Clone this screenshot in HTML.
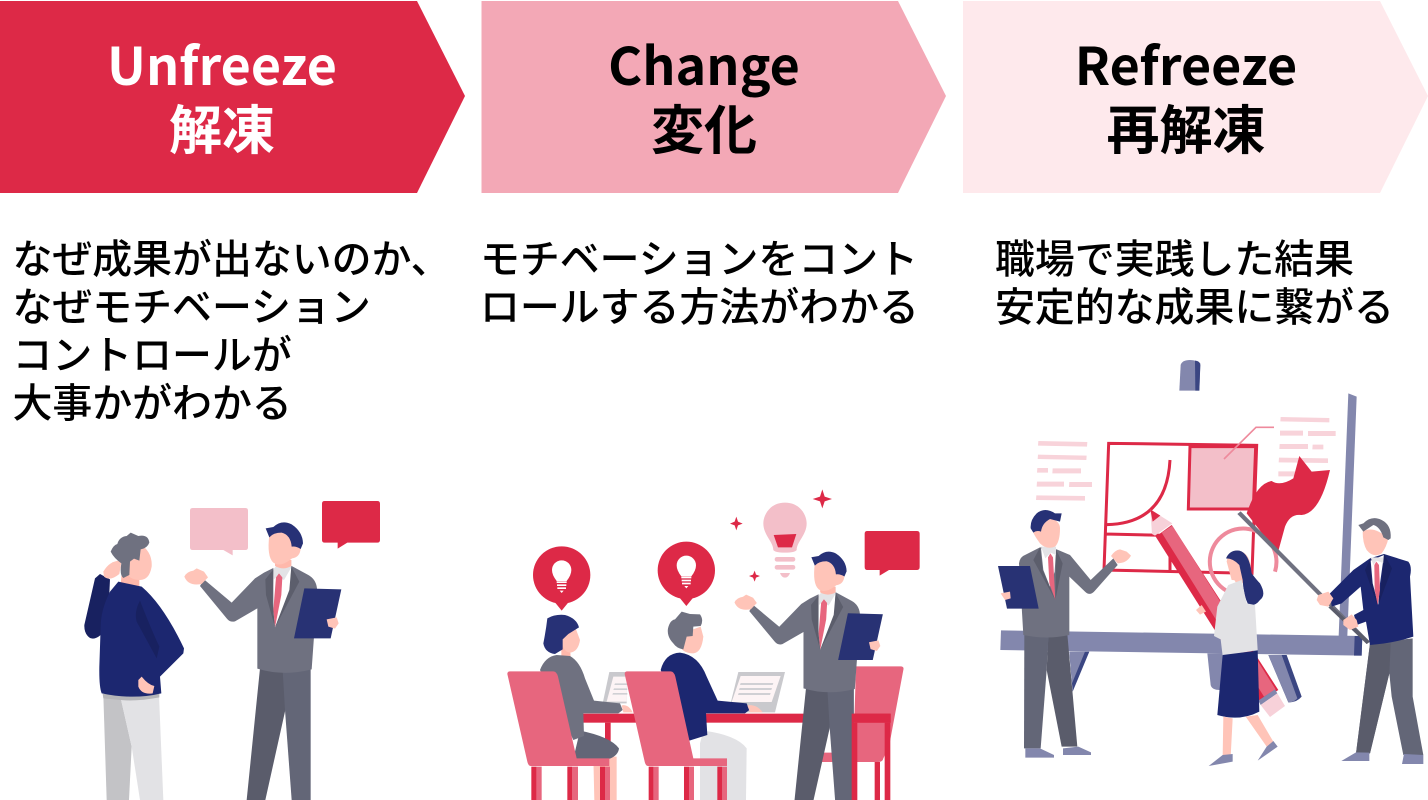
<!DOCTYPE html>
<html lang="ja"><head><meta charset="utf-8"><title>Unfreeze Change Refreeze</title>
<style>html,body{margin:0;padding:0;background:#fff;width:1428px;height:800px;overflow:hidden}svg{display:block}
text{font-family:"Noto Sans CJK JP","Liberation Sans",sans-serif}
.h{font-size:53px;font-weight:700;text-anchor:middle}.l{font-size:52px}.b{font-size:39.9px;font-weight:500;fill:#000}</style></head><body>
<svg xmlns="http://www.w3.org/2000/svg" width="1428" height="800" viewBox="0 0 1428 800">
<defs>
<g id="man">
<path d="M600 565L672 572 676 690 616 960H560Z" fill="#5a5c6b"/><path d="M668 572L752 565V960H695L675 690Z" fill="#636677"/>
<path d="M420 318L432 298 515 368 585 295 612 278 640 264 695 258 745 285Q768 298 771 325L762 470 755 568Q670 590 592 566L592 385 525 424Q510 428 500 415Z" fill="#6f7180"/>
<path d="M640 262H694L690 330 645 442 640 400Z" fill="#fff"/>
<path d="M640 268L660 246 694 240 694 262 672 300 650 290 640 300Z" fill="#e3e3e6"/>
<path d="M645 240H694V258Q670 272 645 258Z" fill="#ffb8ab"/>
<path d="M648 292L657 280 667 292 664 345 645 442 640 390Z" fill="#e7667e"/>
<path d="M640 268L616 298 618 345 645 442 638 370Z" fill="#5c5e6c"/><path d="M694 260L718 305 645 442 688 330Z" fill="#5c5e6c"/>
<path d="M628 165Q620 230 640 248 660 262 690 240L696 235Q720 232 722 205 700 170 660 155Z" fill="#ffc4b8"/>
<path d="M617 145L640 141Q665 118 695 133 728 155 729 190L722 207Q708 198 695 200 692 165 665 158 640 158 628 172Z" fill="#273176"/>
<path d="M373 290Q380 275 400 272L410 265 432 275 444 292 425 312Q385 320 373 290Z" fill="#ffc4b8"/>
<path d="M733 325L844 328 812 475H702Z" fill="#283274"/>
<path d="M800 418L830 412 836 430 825 446 805 440Z" fill="#ffc4b8"/>
</g>
<g id="bulb"><circle cx="215" cy="285" r="86" fill="#dd2947"/><path d="M193 365L237 365 215 392Z" fill="#dd2947"/>
<path d="M200 303Q186 285 186 270A29 29 0 0 1 244 270Q244 285 230 303Z" fill="#fff"/><rect x="200" y="304" width="30" height="5" fill="#fff"/><rect x="201" y="313" width="28" height="5" fill="#fff"/><rect x="202" y="322" width="26" height="5" fill="#fff"/><path d="M209 332H221L215 339Z" fill="#fff"/></g>
</defs>

<polygon points="0,1 417,1 465,96 417,193 0,193" fill="#dd2947"/>
<polygon points="481.5,1 898,1 946,96 898,193 481.5,193" fill="#f3a8b6"/>
<polygon points="963,1 1380,1 1428,96 1380,193 963,193" fill="#fee9ec"/>
<text class="h l" x="222" y="85" fill="#fff">Unfreeze</text><text class="h" x="222" y="149" fill="#fff">解凍</text>
<text class="h l" x="704" y="85">Change</text><text class="h" x="704" y="149">変化</text>
<text class="h l" x="1186" y="85">Refreeze</text><text class="h" x="1186" y="149">再解凍</text>

<text class="b" x="12.5" y="273">なぜ成果が出ないのか、</text>
<text class="b" x="12.5" y="321">なぜモチベーション</text>
<text class="b" x="12.5" y="369">コントロールが</text>
<text class="b" x="12.5" y="417">大事かがわかる</text>
<text class="b" x="480" y="273">モチベーションをコント</text>
<text class="b" x="480" y="321">ロールする方法がわかる</text>
<text class="b" x="995" y="273">職場で実践した結果</text>
<text class="b" x="995" y="321">安定的な成果に繋がる</text>

<!-- Scene 1 -->
<g transform="translate(60 480) scale(.33333)">
<path d="M398 84H556Q564 84 564 92V202Q564 210 556 210H518V226L490 210H398Q390 210 390 202V92Q390 84 398 84Z" fill="#f3bfc9"/>
<path d="M794 63H952Q960 63 960 71V180Q960 188 952 188H862L833 206V188H794Q786 188 786 180V71Q786 63 794 63Z" fill="#dd2947"/>
<path d="M130 645H180L215 800 207 960H140Z" fill="#c3c3c6"/><path d="M180 645H297L310 960H240L215 800Z" fill="#e2e2e5"/>
<path d="M128 642H298V652Q230 665 180 660L130 655Z" fill="#b5b5b8"/>
<path d="M185 280L238 280 238 325 182 312Z" fill="#ffb8ab"/>
<path d="M238 190Q278 215 275 260 268 300 240 300 205 300 195 270Z" fill="#ffc4b8"/>
<path d="M120 282L150 298 148 340 122 465Q105 480 90 474 72 462 73 435L105 295Z" fill="#182160"/>
<path d="M130 275Q150 240 185 242L178 282Q150 305 132 290Z" fill="#ffc4b8"/>
<path d="M175 305L245 320Q310 375 372 505L370 520 300 590 304 640Q220 660 125 640 117 620 118 560L122 440Q122 390 150 335Z" fill="#1c2770"/>
<path d="M240 362Q222 395 230 425L290 535 298 500Q270 440 240 362Z" fill="#182160"/>
<path d="M235 600L245 590Q265 615 283 618L278 640Q245 645 235 620Z" fill="#ffc4b8"/>
<path d="M152 215Q160 195 172 192 178 170 200 168L212 158 235 168Q265 162 268 188 262 205 242 208L238 242 222 236 210 245 208 285 190 294Q178 285 184 250 162 235 152 215Z" fill="#6f7180"/>
<use href="#man"/>
</g>

<!-- Scene 2 -->
<g transform="translate(490 480) scale(.33333)">
<path d="M885 68C930 68 950 105 950 130 950 165 920 185 920 210Q915 218 885 218 855 218 850 210C850 185 820 165 820 130 820 105 840 68 885 68Z" fill="#f3bfc9"/>
<path d="M851 165L919 162 906 202H864Z" fill="#dd2947"/>
<rect x="854" y="231" width="62" height="14" rx="7" fill="#f3bfc9"/><rect x="854" y="255" width="62" height="14" rx="7" fill="#f3bfc9"/><path d="M870 279H900Q895 293 885 293 875 293 870 279Z" fill="#f3bfc9"/>
<path d="M997 28L1004 50 1026 57 1004 64 997 85 990 64 968 57 990 50Z" fill="#dd2947"/>
<path d="M739 110L744 125 758 131 744 136 739 151 734 136 720 131 734 125Z" fill="#dd2947"/>
<path d="M794 272L798 284 810 288 798 293 794 305 789 293 777 288 789 284Z" fill="#dd2947"/>
<path d="M1132 153H1280Q1289 153 1289 161V261Q1289 270 1280 270H1197L1169 287V270H1132Q1124 270 1124 261V161Q1124 153 1132 153Z" fill="#dd2947"/>
<use href="#bulb"/><use href="#bulb" x="374" y="-14"/>
<path d="M1098 559H1232Q1243 559 1240 570L1197 800 1180 835Q1178 846 1165 846H990L996 818H1090Z" fill="#e7667e"/>
<rect x="1154" y="846" width="16" height="114" fill="#dd2947"/><rect x="1184" y="728" width="17" height="232" fill="#dd2947"/>
<path d="M358 576H410V670H338Z" fill="#c9c9cd"/><path d="M370 590H410V665H350Z" fill="#fdf4f5"/>
<path d="M745 576H885L855 697H715Z" fill="#c9c9cd"/><path d="M752 588H872L845 666H725Z" fill="#fdf4f5"/>
<path d="M752 609H850L848 615H750ZM749 624H846L844 630H747ZM746 639H842L840 645H744Z" fill="#d0d0d4"/>
<path d="M375 610H412V615H373ZM372 625H412V630H370ZM369 639H412V644H367Z" fill="#d0d0d4"/>
<rect x="272" y="701" width="930" height="27" fill="#dd2947"/>
<rect x="345" y="728" width="17" height="60" fill="#dd2947"/>
<path d="M640 752Q740 765 770 805L768 960H630V790Z" fill="#e2e2e5"/>
<path d="M310 830H380V960H313Z" fill="#ffc4b8"/>
<path d="M270 752Q360 770 387 805 385 825 360 836H250Z" fill="#636677"/>
<path d="M214 495L240 495 242 535 214 530Z" fill="#ffb8ab"/>
<path d="M215 455Q225 435 255 440L270 480Q265 515 240 518 218 515 215 480Z" fill="#ffc4b8"/>
<path d="M150 570Q165 530 200 525L240 528Q270 545 285 595L312 662 390 670 398 690 385 700 280 700 282 768 250 780Z" fill="#6f7180"/>
<path d="M395 676Q415 672 428 697H400Z" fill="#ffc4b8"/>
<path d="M172 415Q195 402 225 405 260 415 267 442L235 462 218 478V508L195 522Q165 518 160 490 168 450 172 415Z" fill="#273176"/>
<path d="M60 574H190Q200 574 204 590L260 835H358V858H122Q115 858 112 845L52 582Q52 574 60 574Z" fill="#e7667e"/>
<path d="M124 860H140V960H124ZM232 860H246V960H232ZM330 860H345V960H330Z" fill="#dd2947"/><path d="M140 860H155V960H140ZM246 860H264V960H246ZM345 860H360V960H345Z" fill="#e7667e"/>
<path d="M590 455L632 440 640 470Q635 518 610 520 575 520 565 490Z" fill="#ffc4b8"/>
<path d="M512 570Q525 520 570 518 625 525 650 590L683 662 770 670 778 690 765 700 648 700 652 765 598 782Z" fill="#1c2770"/>
<path d="M772 676Q800 672 818 697H780Z" fill="#ffc4b8"/>
<path d="M534 445Q540 420 555 418L575 395 600 402 630 403Q642 420 632 438L610 440 608 468 590 470 580 508Q560 505 550 490 530 470 534 445Z" fill="#6f7180"/>
<path d="M412 574H542Q552 574 556 590L610 835H711V858H474Q467 858 464 845L404 582Q404 574 412 574Z" fill="#e7667e"/>
<path d="M476 860H491V960H476ZM582 860H597V960H582ZM682 860H697V960H682Z" fill="#dd2947"/><path d="M491 860H506V960H491ZM597 860H612V960H597ZM697 860H711V960H697Z" fill="#e7667e"/>
<use href="#man" transform="translate(381 96) scale(.945 .935)"/>
<rect x="1085" y="701" width="117" height="27" fill="#dd2947"/>
<rect x="1085" y="728" width="17" height="232" fill="#dd2947"/>
</g>

<!-- Scene 3 -->
<g transform="translate(980 350) scale(.33333)">
<path d="M598 122L602 45Q606 30 630 30 650 30 661 40L658 122Z" fill="#8387ad"/><path d="M645 32Q660 33 661 45L658 122H646Z" fill="#3b4682"/>
<path d="M1105 130L1130 140 1102 858H1076Z" fill="#8387ad"/>
<path d="M63 841L1147 858 1145 917 61 900Z" fill="#8387ad"/><path d="M1124 858H1147L1145 917H1122Z" fill="#3b4682"/>
<path d="M268 905H328L278 1025Z" fill="#3b4682"/><path d="M268 905H315L276 1000Z" fill="#8387ad"/>
<path d="M682 910H730L720 1020Q695 1020 692 1005Z" fill="#8387ad"/>
<path d="M865 915H920L965 1040Q950 1058 925 1057Z" fill="#3b4682"/><path d="M865 915H905L952 1045Q940 1058 925 1057Z" fill="#8387ad"/>
<g fill="#f8d3da"><path d="M175 273L322 276 321 290 174 287ZM174 314L320 317 319 330 173 327ZM172 354H204V368H171ZM218 355H303V370H217ZM171 395H252V410H170ZM268 396H336V411H267ZM169 436L315 438V452L168 450Z"/><path d="M902 201L1048 204V217L901 214ZM900 242H969V257H900ZM984 243H1067V258H984ZM899 282H984V297H898ZM998 284H1030V298H997ZM897 323L1044 325V339L896 337ZM895 364H945V379H895Z"/></g>
<path d="M630 290H827L820 477H625Z" fill="#f3bfc9" stroke="#dd2947" stroke-width="9"/>
<path d="M386 280L830 286 816 670 372 660ZM376 552L560 556M380 524Q560 520 570 330M570 600V660" fill="none" stroke="#dd2947" stroke-width="9"/>
<path d="M732 327L828 232H882" fill="none" stroke="#ee8a9c" stroke-width="5"/>
<path d="M800 735A100 100 0 1 1 885 665" fill="none" stroke="#ee8a9c" stroke-width="12"/>
<path d="M527 560L575 525 895 1020 840 1055Z" fill="#dd2947"/><path d="M545 548L577 527 887 1018 852 1040Z" fill="#e7667e"/>
<path d="M835 1052L885 1018 892 1030 842 1065Z" fill="#8387ad"/><path d="M842 1065L892 1030 915 1068 870 1101Z" fill="#f7d1d9"/>
<path d="M511 478L577 520 525 557 516 552Z" fill="#f7d1d9"/><path d="M511 478L541 497 518 515Z" fill="#dd2947"/>
<path d="M800 490Q830 400 875 393 900 410 940 385L958 318 995 365 1050 360Q1020 490 965 495 930 490 915 530L893 610Z" fill="#dd2947"/>
<path d="M782 484L1170 875 1160 882 772 492Z" fill="#6f7180"/>
<path d="M760 685H790V698L775 710Z" fill="#ffc4b8"/>
<path d="M740 635Q745 600 775 602 808 608 812 650L785 692 755 690Z" fill="#ffc4b8"/>
<path d="M738 625Q750 598 778 602 808 610 815 670 830 690 840 700 860 735 840 750 825 770 805 765 790 735 788 690L778 645Q760 625 738 625Z" fill="#273176"/>
<path d="M648 780L665 765 678 785 660 794Z" fill="#ffc4b8"/>
<path d="M745 705L785 690 800 760 825 765 833 900 728 918 722 868 702 858 712 770Z" fill="#e2e2e5"/>
<path d="M728 915L833 902 838 1085Q780 1115 712 1095Z" fill="#1c2770"/>
<path d="M730 1100L758 1105 752 1220H728ZM797 1100L833 1095 880 1175 860 1190Z" fill="#ffc4b8"/>
<path d="M728 1215L758 1212V1235L686 1248ZM860 1190L880 1173 893 1190 833 1232Z" fill="#8387ad"/>
<!-- left man -->
<path d="M133 855L205 862 200 960 182 1195H132Z" fill="#636677"/><path d="M205 860L262 852 292 1190H245L200 960Z" fill="#5a5c6b"/>
<path d="M136 1195L180 1195 222 1215V1223H136ZM249 1195L295 1190 333 1207V1215H249Z" fill="#8387ad"/>
<path d="M117 640Q120 620 135 615L180 592 230 598 270 615 332 690 400 625 413 645 345 722Q330 740 315 725L268 680 268 855Q200 870 130 855L125 770Z" fill="#6f7180"/>
<path d="M183 595L228 600 224 665 210 710 190 660Z" fill="#fff"/><path d="M183 590H228V615L212 608 196 625Z" fill="#e3e3e6"/>
<path d="M204 622L211 610 219 622 226 750 208 700Z" fill="#e7667e"/>
<path d="M180 592L160 630 226 750 188 660ZM228 598L248 640 226 750 228 650Z" fill="#5c5e6c"/>
<path d="M183 525Q190 505 215 505 240 515 240 535 240 575 225 590 200 600 180 580 165 560 160 548Z" fill="#ffc4b8"/>
<path d="M245 490L225 490Q195 470 170 490 150 510 152 535L160 548Q170 540 183 545 186 520 210 507L240 515Z" fill="#273176"/>
<path d="M393 618Q405 600 420 598L440 605 453 617Q440 640 413 640Z" fill="#ffc4b8"/>
<path d="M54 648L150 648 176 776H81Z" fill="#283274"/>
<path d="M62 730L90 725 92 745 75 750Z" fill="#ffc4b8"/>
<!-- right man -->
<path d="M1170 880L1298 865 1298 1040 1330 1215H1270L1235 1040 1228 970 1170 1210H1128Z" fill="#636677"/><path d="M1170 880L1232 880 1228 970 1170 1210H1128Z" fill="#5a5c6b"/>
<path d="M1128 1207L1168 1208V1233H1084ZM1272 1212L1330 1215V1242H1266Z" fill="#8387ad"/>
<path d="M1050 730L1120 660 1170 625 1212 612 1285 635Q1297 650 1290 680L1300 860Q1240 880 1170 885L1158 815 1130 825 1122 795 1150 780 1142 710 1085 760 1055 770Z" fill="#1c2770"/>
<path d="M1172 632L1212 615 1200 700 1195 765 1178 700Z" fill="#fff"/><path d="M1172 622H1212V640L1190 632 1180 645Z" fill="#e3e3e6"/>
<path d="M1183 645L1189 635 1197 645 1200 720 1193 765 1184 720Z" fill="#e7667e"/>
<path d="M1170 628L1155 660 1192 765 1175 690ZM1212 612L1236 655 1195 765 1205 690Z" fill="#182160"/>
<path d="M1148 545Q1180 525 1225 565 1220 590 1205 610 1180 625 1160 600 1148 580 1148 545Z" fill="#ffc4b8"/>
<path d="M1135 525L1150 520Q1175 495 1205 510 1235 525 1232 565L1225 570 1210 562Q1200 530 1180 525L1150 545Z" fill="#6f7180"/>
<path d="M1055 768L1170 875 1160 882 1045 772Z" fill="#5a5c6b"/>
<path d="M1015 735L1045 725 1060 745 1045 770 1020 765 1010 750ZM1090 810L1115 793 1130 810 1135 830 1110 840 1090 825Z" fill="#ffc4b8"/>
</g>
</svg></body></html>
